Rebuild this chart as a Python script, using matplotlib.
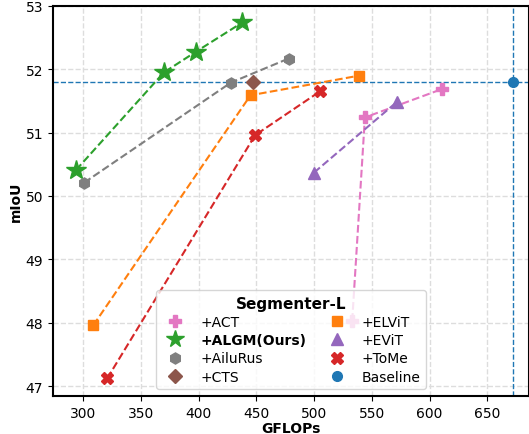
import matplotlib
matplotlib.use("Agg")
import matplotlib.pyplot as plt
from matplotlib.lines import Line2D

# data (GFLOPs, mIoU)
act_x = [533, 544, 611]
act_y = [48.03, 51.24, 51.69]
algm_x = [294, 370, 398, 438]
algm_y = [50.41, 51.95, 52.28, 52.74]
ailurus_x = [301, 428, 478]
ailurus_y = [50.21, 51.79, 52.17]
cts_x = [447]
cts_y = [51.80]
elvit_x = [309, 445, 539]
elvit_y = [47.96, 51.59, 51.90]
evit_x = [500, 572]
evit_y = [50.37, 51.49]
tome_x = [321, 449, 505]
tome_y = [47.12, 50.96, 51.65]
baseline_x = 672
baseline_y = 51.8

fig = plt.figure(figsize=(5.29, 4.35), dpi=100)
ax = fig.add_axes([0.1, 0.087, 0.9, 0.897])

ax.grid(True, linestyle="--", color="#dddddd", linewidth=1.0)
ax.set_axisbelow(True)

ax.axhline(baseline_y, color="tab:blue", linestyle="--", linewidth=1.0)
ax.axvline(baseline_x, color="tab:blue", linestyle="--", linewidth=1.0)

ax.plot(act_x, act_y, "--", color="tab:pink", marker="P", markersize=9, label="+ACT")
ax.plot(algm_x, algm_y, "--", color="tab:green", marker="*", markersize=15, label="+ALGM(Ours)")
ax.plot(ailurus_x, ailurus_y, "--", color="tab:gray", marker="h", markersize=8, label="+AiluRus")
ax.plot(cts_x, cts_y, "--", color="tab:brown", marker="D", markersize=7, label="+CTS")
ax.plot(elvit_x, elvit_y, "--", color="tab:orange", marker="s", markersize=7, label="+ELViT")
ax.plot(evit_x, evit_y, "--", color="tab:purple", marker="^", markersize=8, label="+EViT")
ax.plot(tome_x, tome_y, "--", color="tab:red", marker="X", markersize=9, label="+ToMe")
ax.plot([baseline_x], [baseline_y], linestyle="none", color="tab:blue", marker="o", markersize=7, label="Baseline")

ax.set_xlim(274, 686)
ax.set_ylim(46.84, 53)
ax.set_xticks([300, 350, 400, 450, 500, 550, 600, 650])
ax.set_yticks([47, 48, 49, 50, 51, 52, 53])
ax.set_xlabel("GFLOPs", fontweight="bold", labelpad=1)
ax.set_ylabel("mIoU", fontweight="bold", labelpad=2)
for s in ax.spines.values():
    s.set_linewidth(1.5)

# legend shows markers only
handles, labels = ax.get_legend_handles_labels()
leg_handles = [Line2D([], [], linestyle="none", marker=h.get_marker(), color=h.get_color(),
                      markersize=min(h.get_markersize(), 13)) for h in handles]
leg = ax.legend(leg_handles, labels, ncol=2, loc="lower center", title="Segmenter-L",
                title_fontproperties={"weight": "bold", "size": 11}, framealpha=0.8,
                columnspacing=1.2, labelspacing=0.3)
for t in leg.get_texts():
    if "ALGM" in t.get_text():
        t.set_fontweight("bold")

fig.savefig("out.png", dpi=100)
